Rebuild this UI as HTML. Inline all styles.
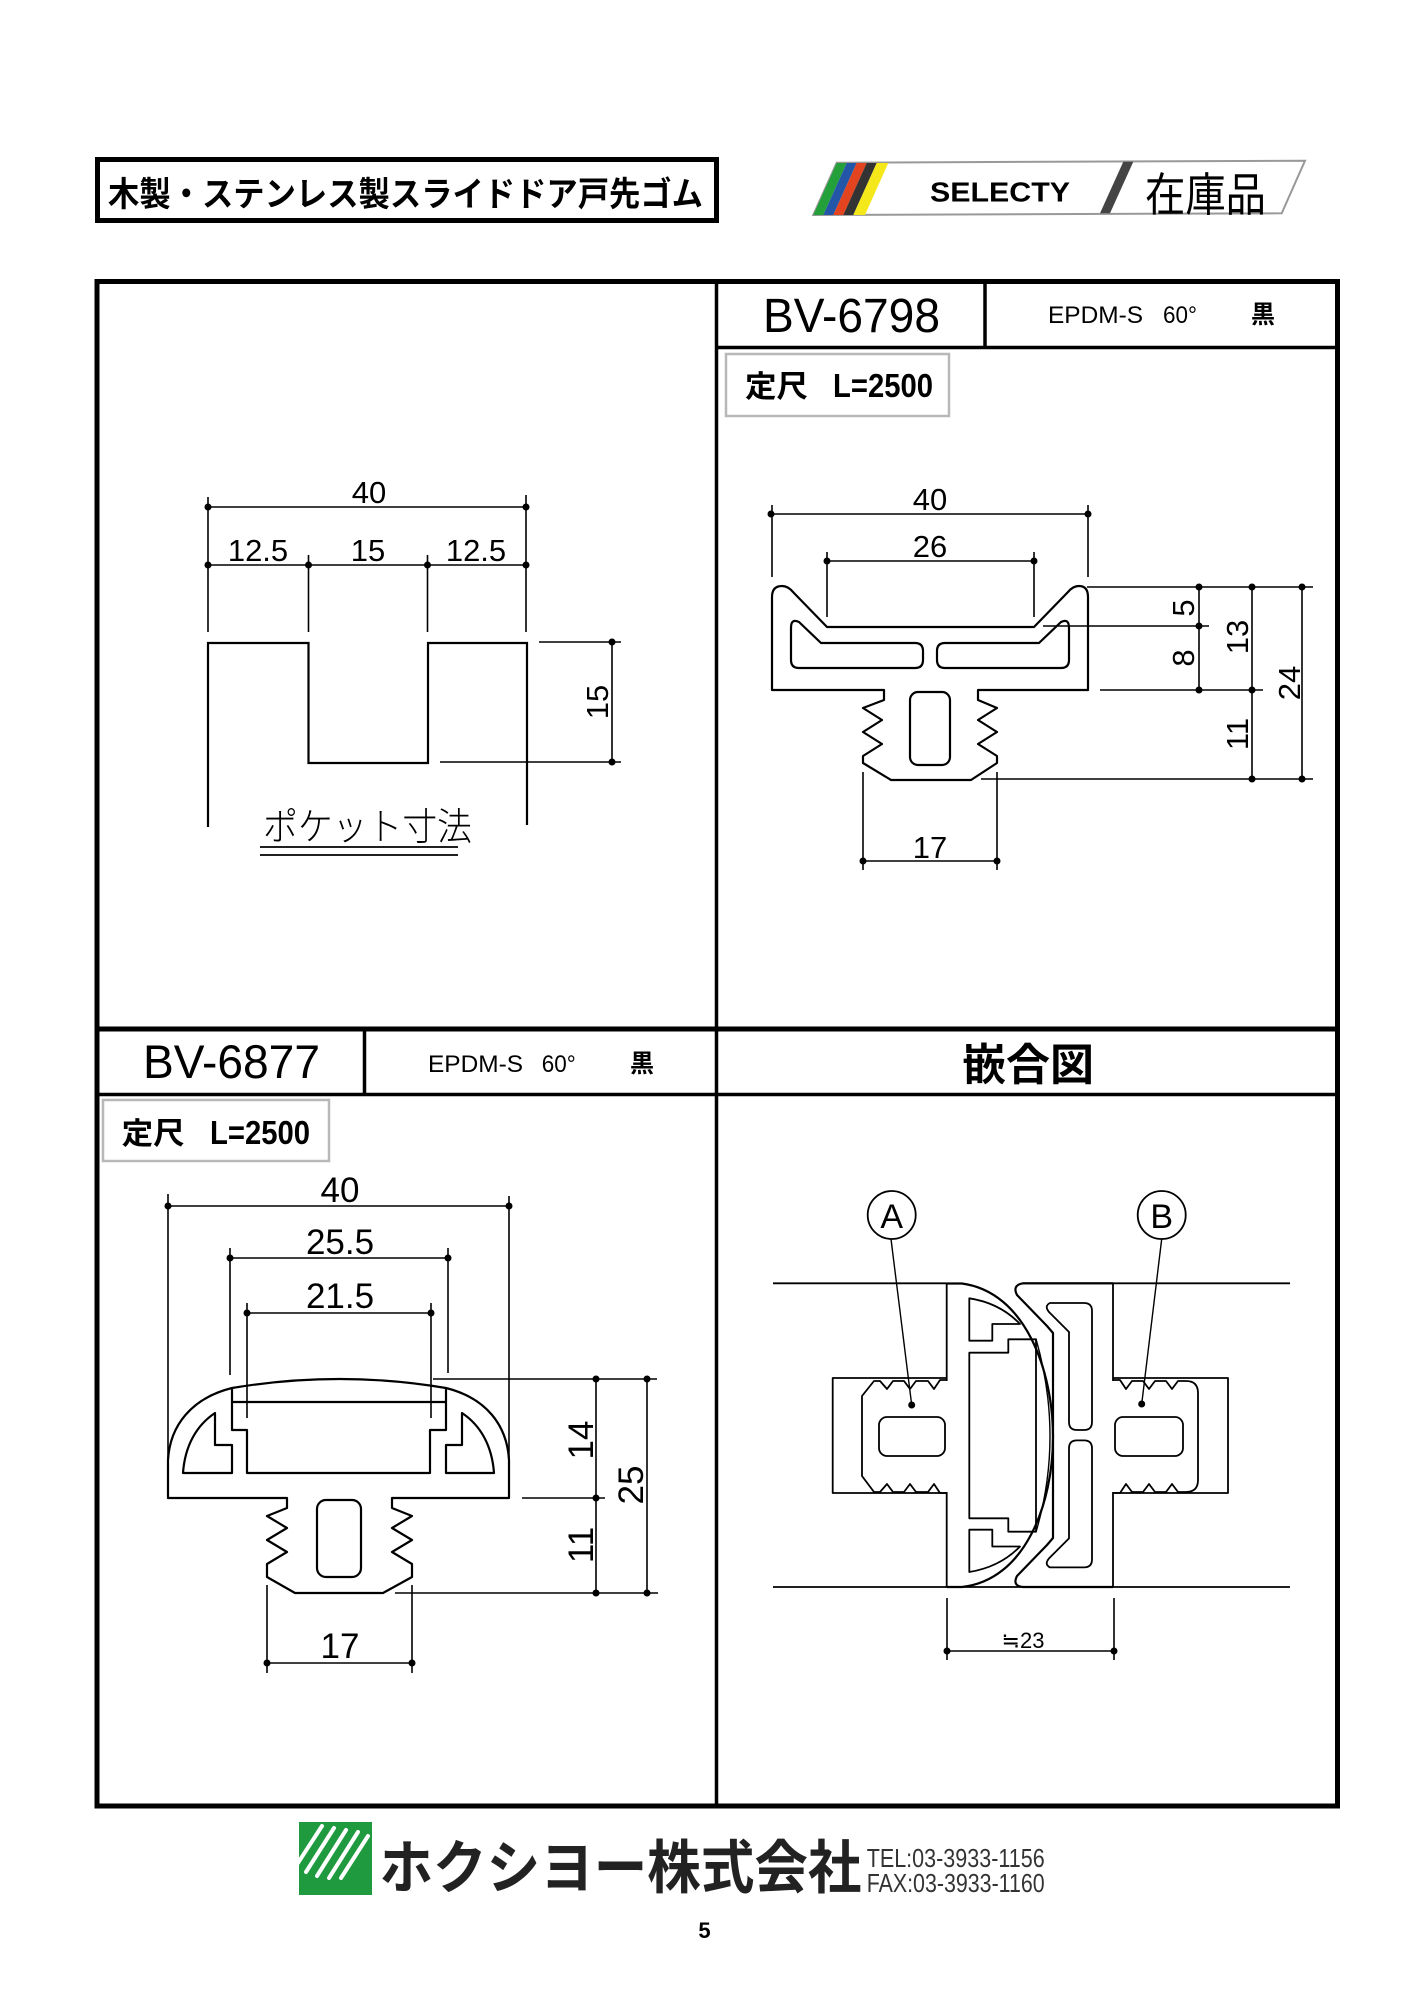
<!DOCTYPE html>
<html><head><meta charset="utf-8"><style>
html,body{margin:0;padding:0;background:#fff;}
svg{display:block;}
text{font-family:"Liberation Sans","Noto Sans CJK JP",sans-serif;}
</style></head><body>
<svg width="1414" height="2000" viewBox="0 0 1414 2000" xmlns="http://www.w3.org/2000/svg">
<rect width="1414" height="2000" fill="#fff"/>

<!-- Title box -->
<rect x="97.5" y="159.5" width="619" height="61" fill="none" stroke="#000" stroke-width="5"/>
<text x="108" y="206" font-size="34" font-weight="bold" textLength="595" lengthAdjust="spacingAndGlyphs">木製・ステンレス製スライドドア戸先ゴム</text>

<!-- SELECTY logo -->
<polygon points="836.7,162.7 1305,160.7 1281.7,213.3 813.3,215" fill="#fff" stroke="#999" stroke-width="2"/>
<polygon points="836.7,163 846.7,163 823.3,215 813.3,215" fill="#23a03a"/>
<polygon points="846.7,163 856.7,163 833.3,215 823.3,215" fill="#2456a8"/>
<polygon points="856.7,163 866.7,163 843.3,215 833.3,215" fill="#e2441f"/>
<polygon points="866.7,163 876.7,163 853.3,215 843.3,215" fill="#333"/>
<polygon points="876.7,163 888.3,163 865,215 853.3,215" fill="#f5e81a"/>
<polygon points="1123.3,161.7 1133.3,161.7 1110,213.3 1100,213.3" fill="#444"/>
<text x="930" y="201.7" font-size="28" font-weight="bold" textLength="140" lengthAdjust="spacingAndGlyphs">SELECTY</text>
<text x="1145" y="211" font-size="46" textLength="121" lengthAdjust="spacingAndGlyphs">在庫品</text>

<!-- Main frame -->
<rect x="97" y="281.5" width="1240.5" height="1524.5" fill="none" stroke="#000" stroke-width="5"/>
<line x1="716.5" y1="281" x2="716.5" y2="1806" stroke="#000" stroke-width="3.5"/>
<line x1="97" y1="1029" x2="1337.5" y2="1029" stroke="#000" stroke-width="5"/>
<line x1="716.5" y1="347.5" x2="1337.5" y2="347.5" stroke="#000" stroke-width="3.5"/>
<line x1="985" y1="281.5" x2="985" y2="347.5" stroke="#000" stroke-width="3.5"/>
<line x1="97" y1="1094.5" x2="1337.5" y2="1094.5" stroke="#000" stroke-width="3.5"/>
<line x1="364.5" y1="1029" x2="364.5" y2="1094.5" stroke="#000" stroke-width="3.5"/>

<!-- Headers -->
<text x="763" y="332" font-size="48" textLength="177" lengthAdjust="spacingAndGlyphs">BV-6798</text>
<text x="1048" y="323" font-size="24" textLength="95" lengthAdjust="spacingAndGlyphs">EPDM-S</text>
<text x="1163" y="323" font-size="24" textLength="34" lengthAdjust="spacingAndGlyphs">60°</text>
<text x="1251" y="323" font-size="25" font-weight="bold" textLength="24" lengthAdjust="spacingAndGlyphs">黒</text>
<rect x="726" y="354" width="223" height="62" fill="none" stroke="#b8b8b8" stroke-width="2.5"/>
<text x="745" y="397" font-size="30" font-weight="bold" textLength="63" lengthAdjust="spacingAndGlyphs">定尺</text>
<text x="833" y="397" font-size="33" font-weight="bold" textLength="100" lengthAdjust="spacingAndGlyphs">L=2500</text>

<text x="143" y="1078" font-size="47" textLength="177" lengthAdjust="spacingAndGlyphs">BV-6877</text>
<text x="428" y="1072" font-size="24" textLength="95" lengthAdjust="spacingAndGlyphs">EPDM-S</text>
<text x="541.7" y="1072" font-size="24" textLength="34" lengthAdjust="spacingAndGlyphs">60°</text>
<text x="630" y="1072" font-size="25" font-weight="bold" textLength="24" lengthAdjust="spacingAndGlyphs">黒</text>
<rect x="103" y="1100" width="226" height="61" fill="none" stroke="#b8b8b8" stroke-width="2.5"/>
<text x="121.7" y="1144" font-size="30" font-weight="bold" textLength="63" lengthAdjust="spacingAndGlyphs">定尺</text>
<text x="210" y="1144" font-size="33" font-weight="bold" textLength="100" lengthAdjust="spacingAndGlyphs">L=2500</text>

<text x="962" y="1080" font-size="44" font-weight="bold" textLength="132" lengthAdjust="spacingAndGlyphs">嵌合図</text>

<!-- ===== Pocket drawing ===== -->
<g stroke="#000" stroke-width="1.6" fill="none">
<line x1="208" y1="507" x2="526" y2="507"/>
<line x1="208" y1="497" x2="208" y2="632"/>
<line x1="526" y1="495" x2="526" y2="632"/>
<line x1="208" y1="565" x2="526" y2="565"/>
<line x1="308.5" y1="555" x2="308.5" y2="632"/>
<line x1="427.5" y1="555" x2="427.5" y2="632"/>
<line x1="539" y1="642" x2="621" y2="642"/>
<line x1="440" y1="762" x2="621" y2="762"/>
<line x1="612" y1="642" x2="612" y2="762"/>
<line x1="260" y1="847" x2="458" y2="847" stroke-width="1.8"/>
<line x1="260" y1="855" x2="458" y2="855" stroke-width="1.8"/>
</g>
<polyline points="208,827 208,643 308.5,643 308.5,763 428,763 428,643 527,643 527,825" fill="none" stroke="#000" stroke-width="2.2"/>
<g fill="#000">
<circle cx="208" cy="507" r="3.5"/><circle cx="526" cy="507" r="3.5"/>
<circle cx="208" cy="565" r="3.5"/><circle cx="308.5" cy="565" r="3.5"/>
<circle cx="427.5" cy="565" r="3.5"/><circle cx="526" cy="565" r="3.5"/>
<circle cx="612" cy="642" r="3.5"/><circle cx="612" cy="762" r="3.5"/>
</g>
<g font-size="31" text-anchor="middle" fill="#000">
<text x="369" y="503">40</text>
<text x="258" y="561">12.5</text>
<text x="368" y="561">15</text>
<text x="476" y="561">12.5</text>
<text transform="translate(608,702) rotate(-90)">15</text>
</g>
<text x="263" y="840" font-size="38" font-weight="300" textLength="209" lengthAdjust="spacingAndGlyphs">ポケット寸法</text>

<!-- ===== BV-6798 ===== -->
<g stroke="#000" stroke-width="1.6" fill="none">
<line x1="771" y1="514" x2="1088" y2="514"/>
<line x1="772" y1="505" x2="772" y2="577"/>
<line x1="1088" y1="505" x2="1088" y2="577"/>
<line x1="827" y1="561" x2="1034" y2="561"/>
<line x1="827" y1="552" x2="827" y2="617"/>
<line x1="1034" y1="552" x2="1034" y2="617"/>
<line x1="1087" y1="587" x2="1313" y2="587"/>
<line x1="1043" y1="626" x2="1209" y2="626"/>
<line x1="1100" y1="690" x2="1263" y2="690"/>
<line x1="981" y1="779" x2="1313" y2="779"/>
<line x1="1199" y1="587" x2="1199" y2="690"/>
<line x1="1252" y1="587" x2="1252" y2="779"/>
<line x1="1302" y1="587" x2="1302" y2="779"/>
<line x1="863" y1="861" x2="997" y2="861"/>
<line x1="863" y1="772" x2="863" y2="870"/>
<line x1="997" y1="772" x2="997" y2="870"/>
</g>
<g stroke="#000" stroke-width="2.2" fill="none" stroke-linejoin="round">
<path d="M772,690 L772,597 Q772,586 782,586 Q788,586 793,592 L827,627 L1034,627 L1068,592 Q1073,586 1079,586 Q1088,586 1088,597 L1088,690 L978,690 L978,700 L997,708 L978,720 L997,732 L978,744 L997,756 L997,763 L971,780 L891,780 L863,763 L863,756 L882,744 L863,732 L882,720 L863,708 L884,700 L884,690 Z"/>
<path d="M791,628 Q791,618 799,622 L821,643 L915,643 Q923,643 923,651 L923,660 Q923,668 915,668 L799,668 Q791,668 791,660 Z"/>
<path d="M1069,628 Q1069,618 1061,622 L1039,643 L945,643 Q937,643 937,651 L937,660 Q937,668 945,668 L1061,668 Q1069,668 1069,660 Z"/>
<rect x="910" y="692" width="40" height="73" rx="8"/>
</g>
<g fill="#000">
<circle cx="771" cy="514" r="3.5"/><circle cx="1088" cy="514" r="3.5"/>
<circle cx="827" cy="561" r="3.5"/><circle cx="1034" cy="561" r="3.5"/>
<circle cx="1199" cy="587" r="3.5"/><circle cx="1199" cy="626" r="3.5"/><circle cx="1199" cy="690" r="3.5"/>
<circle cx="1252" cy="587" r="3.5"/><circle cx="1252" cy="690" r="3.5"/><circle cx="1252" cy="779" r="3.5"/>
<circle cx="1302" cy="587" r="3.5"/><circle cx="1302" cy="779" r="3.5"/>
<circle cx="863" cy="861" r="3.5"/><circle cx="997" cy="861" r="3.5"/>
</g>
<g font-size="31" text-anchor="middle" fill="#000">
<text x="930" y="510">40</text>
<text x="930" y="557">26</text>
<text x="930" y="858">17</text>
<text transform="translate(1194,608) rotate(-90)">5</text>
<text transform="translate(1194,658) rotate(-90)">8</text>
<text transform="translate(1248,637) rotate(-90)">13</text>
<text transform="translate(1300,683) rotate(-90)">24</text>
<text transform="translate(1248,734) rotate(-90)">11</text>
</g>

<!-- ===== BV-6877 ===== -->
<g stroke="#000" stroke-width="1.6" fill="none">
<line x1="168" y1="1206" x2="509" y2="1206"/>
<line x1="168" y1="1194" x2="168" y2="1460"/>
<line x1="509" y1="1196" x2="509" y2="1460"/>
<line x1="230" y1="1258" x2="448" y2="1258"/>
<line x1="230" y1="1248" x2="230" y2="1375"/>
<line x1="448" y1="1248" x2="448" y2="1373"/>
<line x1="247" y1="1313" x2="431" y2="1313"/>
<line x1="247" y1="1303" x2="247" y2="1418"/>
<line x1="431" y1="1303" x2="431" y2="1418"/>
<line x1="433" y1="1379" x2="657" y2="1379"/>
<line x1="522" y1="1498" x2="605" y2="1498"/>
<line x1="395" y1="1593" x2="658" y2="1593"/>
<line x1="596" y1="1379" x2="596" y2="1593"/>
<line x1="647" y1="1379" x2="647" y2="1593"/>
<line x1="267" y1="1663" x2="412" y2="1663"/>
<line x1="267" y1="1585" x2="267" y2="1673"/>
<line x1="412" y1="1585" x2="412" y2="1673"/>
</g>
<g stroke="#000" stroke-width="2.2" fill="none" stroke-linejoin="round">
<path d="M168,1498 L168,1460 C170,1425 192,1398 232,1388 Q340,1370 446,1388 C486,1398 507,1425 509,1460 L509,1498 L392,1498 L392,1508 L412,1516 L392,1528 L412,1540 L392,1552 L412,1564 L412,1577 L383,1593 L295,1593 L267,1577 L267,1564 L287,1552 L267,1540 L287,1528 L267,1516 L287,1508 L287,1498 Z"/>
<path d="M232,1388 L232,1430 L247,1430 L247,1473 L430,1473 L430,1430 L446,1430 L446,1388"/>
<line x1="232" y1="1402" x2="446" y2="1402"/>
<path d="M183,1473 C185,1445 197,1425 215,1413 L215,1445 L232,1445 L232,1473 Z"/>
<path d="M494,1473 C492,1445 480,1425 462,1413 L462,1445 L446,1445 L446,1473 Z"/>
<rect x="317" y="1500" width="44" height="77" rx="9"/>
</g>
<g fill="#000">
<circle cx="168" cy="1206" r="3.5"/><circle cx="509" cy="1206" r="3.5"/>
<circle cx="230" cy="1258" r="3.5"/><circle cx="448" cy="1258" r="3.5"/>
<circle cx="247" cy="1313" r="3.5"/><circle cx="431" cy="1313" r="3.5"/>
<circle cx="596" cy="1379" r="3.5"/><circle cx="596" cy="1498" r="3.5"/><circle cx="596" cy="1593" r="3.5"/>
<circle cx="647" cy="1379" r="3.5"/><circle cx="647" cy="1593" r="3.5"/>
<circle cx="267" cy="1663" r="3.5"/><circle cx="412" cy="1663" r="3.5"/>
</g>
<g font-size="35" text-anchor="middle" fill="#000">
<text x="340" y="1202">40</text>
<text x="340" y="1254">25.5</text>
<text x="340" y="1308">21.5</text>
<text x="340" y="1658">17</text>
<text transform="translate(593,1440) rotate(-90)">14</text>
<text transform="translate(643,1485) rotate(-90)">25</text>
<text transform="translate(593,1545) rotate(-90)">11</text>
</g>

<!-- ===== 嵌合図 ===== -->
<g stroke="#000" stroke-width="1.8" fill="none" stroke-linejoin="round">
<circle cx="891.7" cy="1215" r="24"/>
<circle cx="1161.7" cy="1215" r="24"/>
<line x1="891" y1="1239" x2="911.7" y2="1405" stroke-width="1.4"/>
<line x1="1161.7" y1="1239" x2="1141.7" y2="1404" stroke-width="1.4"/>
<line x1="773" y1="1283.3" x2="946.7" y2="1283.3"/>
<line x1="1023" y1="1283.3" x2="1290" y2="1283.3"/>
<line x1="773" y1="1587" x2="1290" y2="1587"/>
<polyline points="946.7,1378 832.7,1378 832.7,1493 946.7,1493"/>
<polyline points="1113,1378 1228,1378 1228,1493 1113,1493"/>
<line x1="946.7" y1="1283" x2="946.7" y2="1381"/>
<line x1="946.7" y1="1492" x2="946.7" y2="1587"/>
<line x1="1113" y1="1283" x2="1113" y2="1381"/>
<line x1="1113" y1="1492" x2="1113" y2="1587"/>
<path d="M946.7,1283.5 L962,1283.5 C1025,1292 1053,1370 1053,1437 C1053,1504 1025,1580 962,1587 L946.7,1587" stroke-width="2.2"/>
<path d="M969.3,1352.7 L1008.3,1352.7 L1008.3,1339.3 L1036,1339.3 L1036,1531.7 L1008.3,1531.7 L1008.3,1518.3 L969.3,1518.3 Z"/>
<path d="M1036,1339 Q1064,1437 1036,1532" stroke-width="1.4"/>
<path d="M969.3,1298.3 L969.3,1340.7 L992.3,1340.7 L992.3,1324 L1020,1324 Q1000,1303 969.3,1298.3 Z"/>
<path d="M969.3,1572 L969.3,1529.7 L992.3,1529.7 L992.3,1546.5 L1020,1546.5 Q1000,1567 969.3,1572 Z"/>
<path d="M946.7,1380 L940,1380 L934,1389 L928,1381 L916,1381 L910,1389 L904,1381 L893,1381 L887,1389 L880,1381 L874,1381 L862,1396 L862,1476 L874,1492 L880,1492 L887,1484 L893,1492 L904,1492 L910,1484 L916,1492 L928,1492 L934,1484 L940,1493 L946.7,1493"/>
<rect x="879" y="1417" width="66" height="39" rx="8"/>
<path d="M1113,1283.3 L1023,1283.3 Q1012,1285 1017,1295 L1047,1326 L1053,1333 L1053,1538 L1047,1545 L1017,1576 Q1012,1586 1023,1587 L1113,1587" stroke-width="2.2"/>
<path d="M1050,1303 L1084,1303 Q1092,1303 1092,1311 L1092,1422 Q1092,1430 1084,1430 L1077,1430 Q1069,1430 1069,1422 L1069,1332 L1049,1312 Q1044,1306 1050,1303 Z"/>
<path d="M1050,1567.4 L1084,1567.4 Q1092,1567.4 1092,1559.4 L1092,1448.4 Q1092,1440.4 1084,1440.4 L1077,1440.4 Q1069,1440.4 1069,1448.4 L1069,1538.4 L1049,1558.4 Q1044,1564.4 1050,1567.4 Z"/>
<path d="M1113,1380 L1120,1380 L1126,1389 L1132,1381 L1143,1381 L1149,1389 L1155,1381 L1166,1381 L1172,1389 L1178,1381 L1186,1381 Q1198,1381 1198,1393 L1198,1480 Q1198,1492 1186,1492 L1178,1492 L1172,1484 L1166,1492 L1155,1492 L1149,1484 L1143,1492 L1132,1492 L1126,1484 L1120,1493 L1113,1493"/>
<rect x="1115" y="1417" width="68" height="39" rx="8"/>
<line x1="947" y1="1598" x2="947" y2="1660" stroke-width="1.6"/>
<line x1="1114" y1="1598" x2="1114" y2="1660" stroke-width="1.6"/>
<line x1="947" y1="1651" x2="1114" y2="1651" stroke-width="1.6"/>
</g>
<g fill="#000">
<circle cx="911.7" cy="1405" r="3.5"/><circle cx="1141.7" cy="1404" r="3.5"/>
<circle cx="947" cy="1651" r="3.5"/><circle cx="1114" cy="1651" r="3.5"/>
</g>
<g text-anchor="middle" fill="#000">
<text x="891.7" y="1228" font-size="34">A</text>
<text x="1161.7" y="1228" font-size="34">B</text>
<text x="1023" y="1648" font-size="22">≒23</text>
</g>

<!-- ===== Footer ===== -->
<defs><clipPath id="lg"><rect x="299" y="1822" width="73" height="73"/></clipPath></defs>
<rect x="299" y="1822" width="73" height="73" fill="#1f9a3e"/>
<g clip-path="url(#lg)" stroke="#fff" stroke-width="4" stroke-linecap="round">
<line x1="296" y1="1866" x2="322" y2="1826"/>
<line x1="306" y1="1872" x2="334" y2="1828"/>
<line x1="317" y1="1876" x2="346" y2="1830"/>
<line x1="329" y1="1878" x2="358" y2="1832"/>
<line x1="341" y1="1878" x2="368" y2="1836"/>
</g>
<text x="379.5" y="1888" font-size="58" font-weight="bold" fill="#222" textLength="482" lengthAdjust="spacingAndGlyphs">ホクシヨー株式会社</text>
<text x="866.7" y="1867" font-size="26" fill="#333" textLength="178" lengthAdjust="spacingAndGlyphs">TEL:03-3933-1156</text>
<text x="866.7" y="1892" font-size="26" fill="#333" textLength="178" lengthAdjust="spacingAndGlyphs">FAX:03-3933-1160</text>
<text x="704.5" y="1938" font-size="22" font-weight="bold" text-anchor="middle">5</text>
</svg>
</body></html>
